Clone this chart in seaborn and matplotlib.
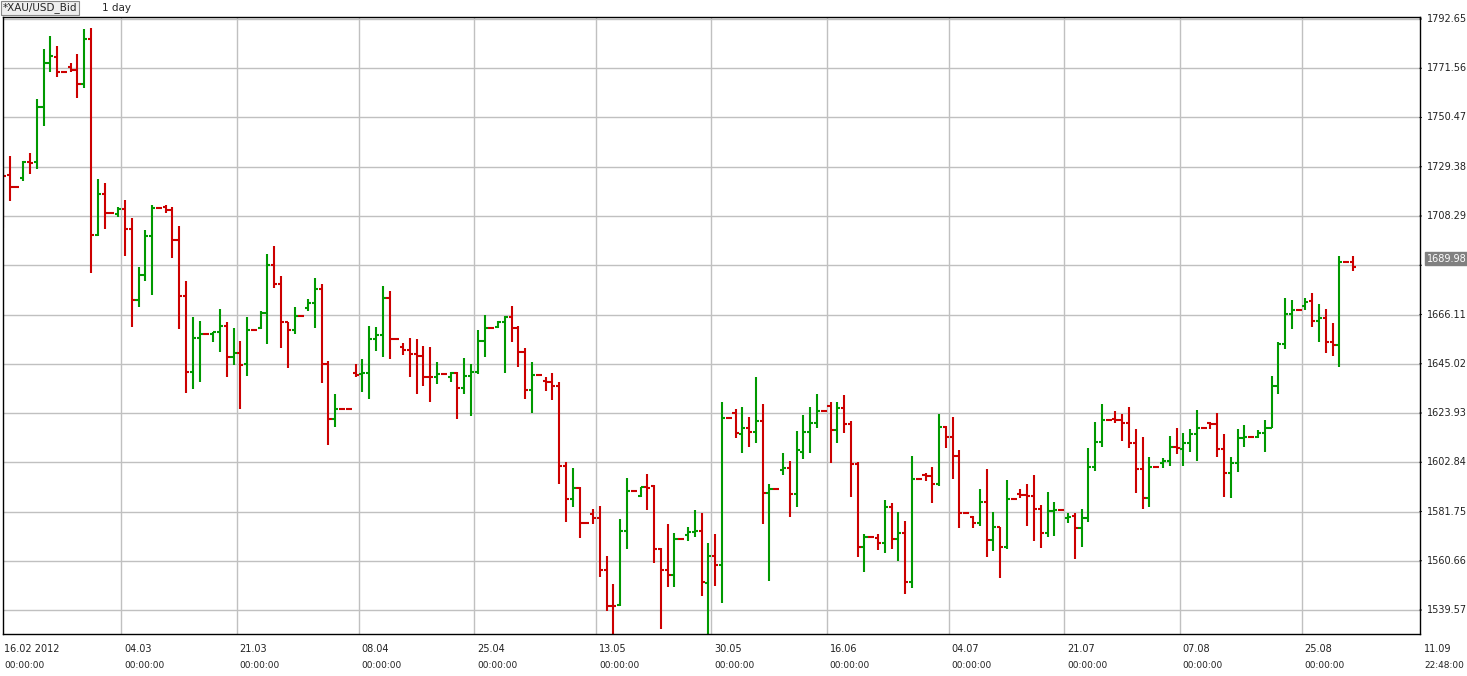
import numpy as np
import pandas as pd
import matplotlib
matplotlib.use("Agg")
import matplotlib.pyplot as plt
import seaborn as sns

opens = [1725.9,1725.9,1720.7,1724.6,1731.4,1731.4,1755.0,1773.8,1776.4,1770.0,
1772.1,1770.8,1764.8,1784.1,1700.2,1717.7,1709.6,1709.2,1711.3,1702.7,
1672.3,1683.0,1699.7,1711.7,1712.2,1710.9,1698.0,1674.0,1641.5,1656.1,
1657.8,1657.8,1658.6,1661.2,1647.9,1649.6,1644.9,1659.5,1660.4,1666.8,
1687.3,1679.2,1662.9,1659.5,1665.5,1668.9,1671.1,1677.1,1644.9,1621.4,
1625.7,1625.7,1641.1,1640.7,1641.1,1655.6,1657.4,1673.2,1655.6,1652.2,
1650.9,1649.2,1648.4,1639.4,1639.4,1640.7,1639.4,1641.1,1634.7,1639.8,
1641.5,1654.8,1660.4,1660.8,1662.9,1665.1,1660.4,1650.1,1633.8,1640.2,
1637.7,1637.2,1635.5,1601.3,1587.1,1591.8,1576.9,1580.7,1579.0,1556.7,
1541.3,1541.7,1573.4,1590.6,1588.4,1592.3,1592.7,1565.7,1556.7,1554.6,
1570.0,1571.7,1573.0,1573.4,1551.2,1562.7,1558.9,1621.8,1624.0,1615.0,
1617.5,1615.8,1620.5,1589.7,1591.4,1599.5,1600.4,1589.3,1607.3,1615.8,
1619.7,1624.8,1627.0,1616.7,1626.1,1619.2,1602.1,1566.6,1570.8,1570.4,
1568.3,1583.7,1570.0,1572.6,1551.6,1595.7,1597.4,1597.0,1593.6,1617.9,
1613.7,1605.5,1581.1,1579.4,1576.9,1585.8,1569.6,1575.1,1566.6,1587.1,
1589.3,1588.8,1588.4,1582.9,1572.6,1582.0,1582.4,1579.0,1579.8,1574.7,
1579.0,1600.8,1611.5,1620.9,1621.4,1620.9,1619.7,1611.1,1600.0,1587.6,
1600.8,1602.5,1603.4,1609.4,1608.5,1611.1,1615.0,1617.5,1619.7,1619.2,
1608.5,1598.3,1602.5,1613.3,1613.7,1613.7,1615.4,1617.5,1635.5,1653.5,
1666.3,1668.1,1669.8,1671.9,1663.3,1664.6,1654.4,1653.1,1688.6,1688.6]
highs = [1728.0,1734.0,1720.7,1731.9,1735.3,1758.4,1779.8,1785.4,1781.1,1770.0,
1773.8,1777.7,1788.4,1788.8,1724.2,1722.4,1709.6,1712.2,1715.2,1707.5,
1686.5,1702.3,1713.0,1711.7,1713.0,1712.2,1704.0,1680.5,1665.1,1663.3,
1657.8,1658.6,1668.5,1662.9,1660.4,1654.8,1665.1,1659.5,1667.6,1692.0,
1695.5,1682.6,1662.9,1669.3,1665.5,1672.8,1681.8,1679.2,1646.2,1632.1,
1625.7,1625.7,1644.9,1647.1,1661.2,1660.8,1678.3,1676.2,1655.6,1653.9,
1656.1,1655.6,1652.6,1652.2,1645.8,1640.7,1641.5,1641.5,1647.5,1644.9,
1659.5,1665.9,1660.4,1663.3,1665.5,1669.8,1661.2,1651.8,1645.8,1640.2,
1639.4,1641.1,1637.2,1603.0,1600.4,1592.3,1576.9,1582.9,1584.1,1562.7,
1550.7,1578.6,1596.1,1590.6,1592.3,1597.8,1593.1,1566.1,1576.4,1572.6,
1570.0,1575.1,1582.4,1581.1,1568.3,1572.1,1628.7,1621.8,1625.7,1626.5,
1622.2,1639.4,1627.8,1593.6,1591.4,1606.8,1603.4,1616.2,1623.1,1626.5,
1632.1,1624.8,1628.7,1628.7,1631.7,1620.5,1603.0,1572.1,1570.8,1572.1,
1586.7,1585.4,1581.6,1577.7,1605.5,1595.7,1598.3,1600.8,1623.5,1618.4,
1622.2,1608.1,1581.1,1579.8,1591.4,1600.0,1581.6,1575.1,1595.3,1587.1,
1591.4,1593.6,1597.4,1584.6,1590.1,1585.8,1582.4,1581.1,1581.1,1582.9,
1609.0,1620.1,1627.8,1620.9,1624.8,1623.5,1626.5,1617.1,1613.7,1605.1,
1600.8,1604.7,1614.1,1617.5,1615.4,1617.1,1625.2,1617.5,1620.1,1624.0,
1615.0,1605.1,1617.1,1618.8,1613.7,1616.7,1620.9,1639.8,1654.4,1673.2,
1672.3,1668.1,1673.2,1675.3,1670.6,1668.5,1662.5,1691.2,1688.6,1691.2]
lows = [1703.2,1714.7,1720.7,1723.3,1726.3,1728.4,1746.9,1770.0,1767.8,1770.0,
1770.0,1758.8,1763.1,1683.9,1699.7,1702.7,1709.6,1707.9,1691.2,1660.8,
1669.3,1680.5,1674.5,1711.7,1709.6,1690.3,1659.9,1632.5,1634.2,1637.2,
1657.8,1654.4,1650.1,1639.4,1644.5,1625.7,1639.8,1659.5,1659.9,1653.5,
1677.5,1651.8,1643.2,1657.8,1665.5,1667.6,1660.4,1636.8,1610.3,1618.0,
1625.7,1625.7,1639.4,1633.0,1630.0,1650.5,1647.9,1647.1,1655.6,1648.8,
1639.4,1632.1,1635.5,1628.7,1636.4,1640.7,1637.2,1621.4,1632.1,1622.7,
1640.7,1647.9,1660.4,1660.4,1641.1,1654.4,1643.6,1630.0,1624.0,1640.2,
1633.4,1629.5,1593.6,1577.3,1583.7,1570.4,1576.9,1576.4,1553.7,1539.2,
1526.8,1541.3,1565.7,1590.6,1588.0,1582.4,1559.7,1531.5,1549.5,1549.5,
1570.0,1569.1,1570.8,1545.6,1529.3,1549.9,1542.6,1621.8,1613.3,1606.8,
1609.4,1611.1,1576.4,1552.0,1591.4,1597.4,1579.4,1583.7,1604.3,1606.8,
1617.5,1624.8,1602.5,1611.1,1615.4,1588.0,1562.3,1555.9,1570.8,1565.3,
1564.0,1565.7,1560.6,1546.5,1549.0,1595.7,1594.8,1585.4,1592.7,1609.0,
1595.7,1574.7,1581.1,1574.7,1575.6,1562.3,1564.9,1553.3,1565.7,1587.1,
1587.6,1575.6,1569.1,1566.1,1570.8,1571.3,1582.4,1576.9,1561.4,1566.6,
1577.3,1599.1,1609.4,1620.9,1619.7,1612.0,1609.0,1589.7,1582.9,1583.7,
1600.8,1600.4,1601.3,1606.4,1601.3,1607.2,1603.4,1617.5,1617.1,1605.1,
1588.0,1587.6,1598.7,1609.4,1613.7,1613.3,1607.2,1617.5,1632.1,1651.4,
1659.9,1668.1,1668.1,1660.8,1654.4,1649.6,1648.4,1643.6,1688.6,1684.8]
closes = [1725.4,1720.7,1720.7,1731.4,1731.0,1755.0,1773.8,1776.8,1770.0,1770.0,
1770.8,1764.8,1784.1,1700.2,1717.7,1709.6,1709.6,1711.3,1702.7,1672.3,
1683.0,1699.7,1711.7,1711.7,1710.9,1698.0,1674.0,1641.5,1656.1,1657.8,
1657.8,1658.6,1661.2,1647.9,1649.6,1644.5,1659.5,1659.5,1666.8,1687.3,
1679.2,1662.9,1659.5,1665.5,1665.5,1671.1,1677.1,1644.9,1621.4,1625.7,
1625.7,1625.7,1640.2,1641.1,1655.6,1657.4,1673.2,1655.6,1655.6,1650.9,
1649.2,1648.4,1639.4,1639.4,1640.7,1640.7,1641.1,1634.7,1639.8,1641.5,
1654.8,1660.4,1660.4,1662.9,1665.1,1660.4,1650.1,1633.8,1640.2,1640.2,
1637.2,1635.5,1601.3,1587.1,1591.8,1576.9,1576.9,1579.0,1556.7,1541.3,
1541.3,1573.4,1590.6,1590.6,1592.3,1591.8,1565.7,1556.7,1554.6,1570.0,
1570.0,1573.0,1573.4,1551.6,1562.7,1558.9,1621.8,1621.8,1615.4,1617.5,
1615.8,1620.5,1589.7,1591.4,1591.4,1600.4,1589.3,1608.1,1615.8,1619.7,
1624.8,1624.8,1616.7,1626.1,1619.2,1602.1,1566.6,1570.8,1570.8,1568.3,
1583.7,1570.0,1572.6,1551.6,1595.7,1595.7,1597.0,1593.6,1617.9,1613.7,
1605.5,1581.1,1581.1,1576.9,1585.8,1569.6,1575.1,1566.6,1587.1,1587.1,
1588.8,1588.4,1582.9,1572.6,1582.0,1582.4,1582.4,1579.4,1574.7,1579.0,
1600.8,1611.5,1620.9,1620.9,1620.9,1619.7,1611.1,1600.0,1587.6,1600.8,
1600.8,1603.4,1609.4,1609.0,1611.1,1615.0,1617.5,1617.5,1619.2,1608.5,
1598.3,1602.5,1613.3,1613.7,1613.7,1615.4,1617.5,1635.5,1653.5,1666.3,
1668.1,1668.1,1671.5,1663.3,1664.6,1654.4,1653.1,1688.6,1688.6,1686.5]

date_labels = ["16.02 2012", "04.03", "21.03", "08.04", "25.04", "13.05", "30.05",
               "16.06", "04.07", "21.07", "07.08", "25.08"]
date_index = [0, 17, 34, 52, 69, 87, 104, 121, 139, 156, 173, 191]
price_ticks = [1792.65, 1771.56, 1750.47, 1729.38, 1708.29, 1687.20, 1666.11,
               1645.02, 1623.93, 1602.84, 1581.75, 1560.66, 1539.57]
last_price = 1689.98
title_symbol = "*XAU/USD_Bid"
title_period = "1 day"

sns.set_style("white")
plt.rcParams['font.family'] = ['DejaVu Sans']

df = pd.DataFrame({"o": opens, "h": highs, "l": lows, "c": closes})
df["i"] = np.arange(len(df))
GREEN, RED = "#009900", "#cc0000"
df["col"] = np.where(df["c"] > df["o"], GREEN, RED)

W, H = 1467, 676
fig = plt.figure(figsize=(W / 100, H / 100), dpi=100)
ax = fig.add_axes([2.5 / W, 1 - 634 / H, (1420 - 2.5) / W, (634 - 17) / H])

for v in price_ticks:
    ax.axhline(v, color="#c0c0c0", lw=1, zorder=0)
for k in date_index:
    ax.axvline(k + 0.45 if k else -0.3, color="#c0c0c0", lw=1, zorder=0)

lw = 1.5
ax.vlines(df["i"], df["l"], df["h"], colors=df["col"], lw=lw, zorder=2)
ax.hlines(df["o"], df["i"] - 0.45, df["i"], colors=df["col"], lw=lw, zorder=2)
ax.hlines(df["c"], df["i"], df["i"] + 0.45, colors=df["col"], lw=lw, zorder=2)

ax.set_xlim(-0.05, (1420 - 2.7) / 6.785)
ax.set_ylim(1529.3, 1793.5)
ax.set_xticks([])
ax.set_yticks([])
for s in ax.spines.values():
    s.set_color("black")
    s.set_linewidth(1)

# right price axis labels (the one hidden by the last-price marker is skipped)
for v in price_ticks:
    ax.annotate("", xy=(1, v), xycoords=("axes fraction", "data"),
                xytext=(3, 0), textcoords="offset points",
                arrowprops=dict(arrowstyle="-", color="black", lw=0.8))
    if abs(v - last_price) < 8:
        continue
    ax.annotate(f"{v:.2f}", xy=(1, v), xycoords=("axes fraction", "data"),
                xytext=(5, 0), textcoords="offset points", fontsize=7,
                va="center", ha="left", color="#222222")
ax.annotate(f"{last_price:.2f}", xy=(1, last_price), xycoords=("axes fraction", "data"),
            xytext=(5, 0), textcoords="offset points", fontsize=7,
            va="center", ha="left", color="white",
            bbox=dict(boxstyle="square,pad=0.15", fc="#808080", ec="#808080"))
fig.text(1424 / W, 1 - 649 / H, "11.09", fontsize=7, va="center", ha="left", color="#222222")

# bottom date labels
for k, lab in zip(date_index, date_labels):
    xpix = 2.7 + 6.785 * (k + 0.45) + 3 if k else 4
    fig.text(xpix / W, 1 - 649 / H, lab, fontsize=7, va="center", ha="left", color="#222222")
    fig.text(xpix / W, 1 - 665 / H, "00:00:00", fontsize=6.5, va="center", ha="left", color="#222222")
fig.text(1424 / W, 1 - 665 / H, "22:48:00", fontsize=6.5, va="center", ha="left", color="#222222")

# title
fig.text(3 / W, 1 - 8 / H, title_symbol, fontsize=7.5, va="center", ha="left",
         bbox=dict(boxstyle="square,pad=0.15", fc="#eeeeee", ec="#888888", lw=0.8))
fig.text(102 / W, 1 - 8 / H, title_period, fontsize=7.5, va="center", ha="left")

fig.savefig("out.png", dpi=100)
